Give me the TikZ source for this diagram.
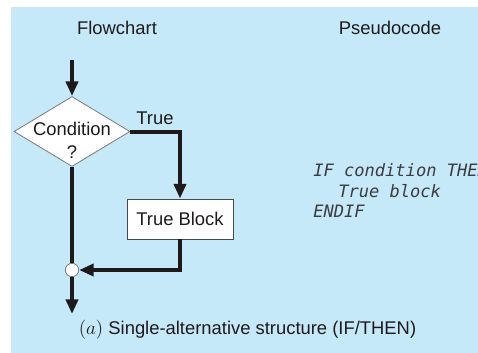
\documentclass[tikz,border=0pt]{standalone}
\usepackage{fontspec}
\setsansfont{Liberation Sans}
\newfontfamily\codefont{DejaVu Sans Mono}
\usetikzlibrary{arrows.meta,shapes.geometric}
\definecolor{bgblue}{RGB}{198,233,250}
\definecolor{ink}{RGB}{30,26,27}
\definecolor{edge}{RGB}{120,120,120}
\definecolor{codeink}{RGB}{60,60,62}
\tikzset{
  label text/.style={font=\sffamily\fontsize{13.8pt}{16pt}\selectfont, text=ink, inner sep=0pt},
  code text/.style={font=\codefont\itshape\fontsize{12.8pt}{14pt}\selectfont, text=codeink, inner sep=0pt, anchor=base west},
  decision/.style={diamond, draw=edge, line width=0.6pt, fill=white, inner sep=0pt,
    minimum width=87pt, minimum height=52.5pt},
  blockbox/.style={rectangle, draw=ink!80, line width=0.6pt, fill=white, inner sep=0pt,
    minimum width=79.5pt, minimum height=30pt, font=\sffamily\fontsize{13.8pt}{16pt}\selectfont, text=ink},
  junction/.style={circle, draw=edge, line width=0.6pt, fill=white, inner sep=0pt, minimum size=10pt},
  flowline/.style={draw=ink, line width=3pt},
  flow/.style={flowline, -{Triangle[length=11pt,width=9pt]}},
}
\begin{document}
\begin{tikzpicture}[x=0.75pt,y=-0.75pt]
\useasboundingbox (0,0) rectangle (478,353);
% panel background
\fill[bgblue] (11,7) rectangle (478,353);

% column headings
\node[label text] (fc) at (117,28) {Flowchart};
\node[label text] (pc) at (390,28) {Pseudocode};

% flowchart shapes
\coordinate (start) at (72,60);
\node[decision] (cond) at (72,131.5) {};
\node[label text, align=center] (condtxt) at (72,140) {Condition\\[1.5pt]?};
\node[label text] (truelbl) at (155,118) {True};
\node[blockbox] (tb) at (180,219) {True Block};
\node[junction] (j) at (72,270) {};
\coordinate (end) at (72,314);

% connectors
\draw[flow] (start) -- (cond.north);
\draw[flow] (cond.east) -| (tb.north);
\draw[flow] (tb.south) |- (j.east);
\draw[flowline] (cond.south) -- (j.north);
\draw[flow] (j.south) -- (end);

% pseudocode
\node[code text] (l1) at (313,176.5) {IF condition THEN};
\node[code text] (l2) at (338,197) {True block};
\node[code text] (l3) at (313,217.5) {ENDIF};

% caption
\node[label text] (cap) at (247.5,330) {$(a)$ Single-alternative structure (IF/THEN)};
\end{tikzpicture}
\end{document}
